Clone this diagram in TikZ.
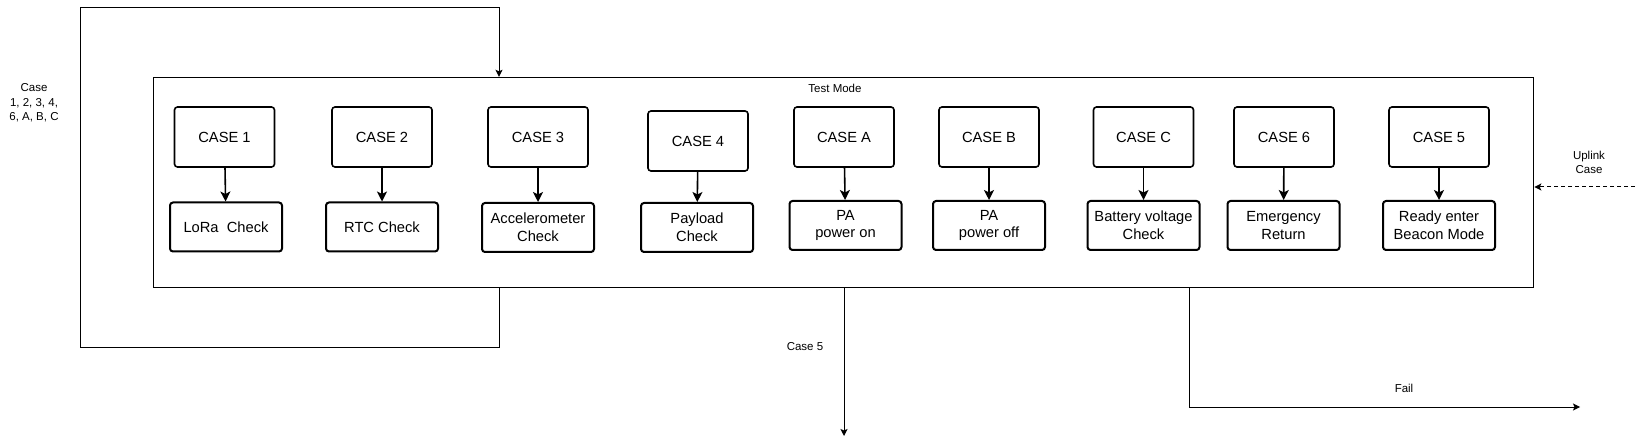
\documentclass[tikz,border=0pt]{standalone}
\usepackage{fontspec}
\setmainfont{Liberation Sans}
\usetikzlibrary{arrows.meta}

\tikzset{
  casebox/.style={draw, line width=1.6pt, rounded corners=3pt, minimum width=100pt,
    minimum height=60pt, inner sep=0pt, font=\fontsize{14.7}{17.6}\selectfont},
  checkbox/.style={draw, line width=2pt, rounded corners=3pt, minimum width=112pt,
    minimum height=49pt, inner sep=0pt, align=center, font=\fontsize{14.7}{17.6}\selectfont},
  down/.style={line width=1.6pt, -{Stealth[length=10pt,width=10pt,inset=2.5pt]}},
  flow/.style={line width=1pt, -{Stealth[length=7pt,width=7pt,inset=1.5pt]}},
  lbl/.style={align=center, inner sep=0pt, font=\fontsize{11.5}{14.3}\selectfont}
}

\begin{document}
\begin{tikzpicture}[x=1pt,y=-1pt]
  \useasboundingbox (0,0) rectangle (1643,446);

  \node[draw, line width=1pt, minimum width=1380pt, minimum height=210pt, inner sep=0pt]
    (testmode) at (843.8,182.3) {};
  \node[lbl] (testlbl) at (835,88) {Test Mode};

  \node[casebox] (case1) at (224.5,137) {CASE 1};
  \node[casebox] (case2) at (382,137) {CASE 2};
  \node[casebox] (case3) at (538,137) {CASE 3};
  \node[casebox] (case4) at (698,141) {CASE 4};
  \node[casebox] (casea) at (844,137) {CASE A};
  \node[casebox] (caseb) at (989,137) {CASE B};
  \node[casebox] (casec) at (1143.5,137) {CASE C};
  \node[casebox] (case6) at (1284,137) {CASE 6};
  \node[casebox] (case5) at (1439,137) {CASE 5};

  \node[checkbox] (lora) at (226,227) {LoRa\ \ Check};
  \node[checkbox] (rtc) at (382,227) {RTC Check};
  \node[checkbox] (accel) at (538,227.5) {Accelerometer\\Check};
  \node[checkbox] (payload) at (697,227.5) {Payload\\Check};
  \node[checkbox] (paon) at (845.5,225.5) {PA\\power on};
  \node[checkbox] (paoff) at (989,225.5) {PA\\power off};
  \node[checkbox] (battery) at (1143.5,225.5) {Battery voltage\\Check};
  \node[checkbox] (emerg) at (1283.5,225.5) {Emergency\\Return};
  \node[checkbox] (beacon) at (1439,225.5) {Ready enter\\Beacon Mode};

  \draw[down] (case1) -- (lora);
  \draw[down] (case2) -- (rtc);
  \draw[down] (case3) -- (accel);
  \draw[down] (case4) -- (payload);
  \draw[down] (casea) -- (paon);
  \draw[down] (caseb) -- (paoff);
  \draw[down] (casec) -- (battery);
  \draw[down] (case6) -- (emerg);
  \draw[down] (case5) -- (beacon);

  \coordinate (looptop) at (499,7.3);
  \coordinate (loopbot) at (80,347);
  \draw[flow] (testmode.south -| looptop) |- (loopbot) |- (looptop) -- (testmode.north -| looptop);
  \node[lbl] (looplbl) at (34,103) {Case\\1, 2, 3, 4,\\6, A, B, C};

  \coordinate (exit5) at (844,436);
  \draw[flow] (testmode.south -| exit5) -- (exit5);
  \node[lbl] (exit5lbl) at (805,347) {Case 5};

  \coordinate (failend) at (1580,407);
  \coordinate (failx) at (1189,0);
  \draw[flow] (testmode.south -| failx) |- (failend);
  \node[lbl] (faillbl) at (1404,388) {Fail};

  \coordinate (uplink) at (1635,187);
  \draw[flow, dashed, dash pattern=on 4pt off 3pt] (uplink) -- (testmode.east |- uplink);
  \node[lbl] (uplinklbl) at (1589,162.5) {Uplink\\Case};
\end{tikzpicture}
\end{document}
